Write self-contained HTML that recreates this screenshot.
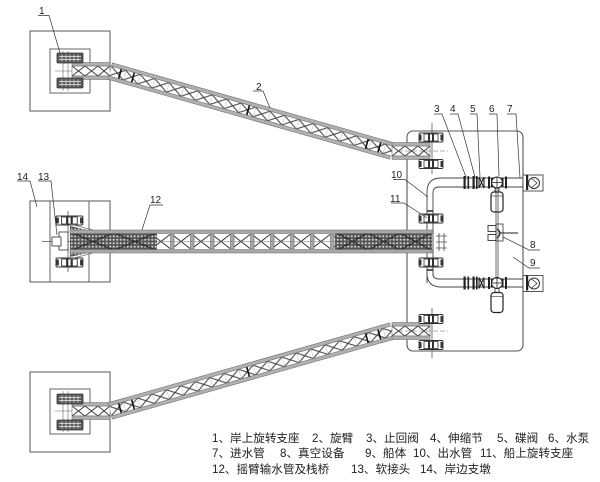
<!DOCTYPE html>
<html><head><meta charset="utf-8"><style>
html,body{margin:0;padding:0;background:#fff;}
svg{display:block;}
text{font-family:"Liberation Sans","Noto Sans CJK SC",sans-serif;fill:#222;}
</style></head><body>
<svg width="600" height="482" viewBox="0 0 600 482" xmlns="http://www.w3.org/2000/svg">
<defs>
  <pattern id="xb" patternUnits="userSpaceOnUse" x="0" y="-5" width="15" height="10">
    <line x1="0" y1="0" x2="15" y2="10" stroke="#444" stroke-width="1.1"/>
    <line x1="15" y1="0" x2="0" y2="10" stroke="#444" stroke-width="1.1"/>
    <line x1="0" y1="0" x2="0" y2="10" stroke="#888" stroke-width="0.6"/>
  </pattern>
  <pattern id="dn" patternUnits="userSpaceOnUse" width="3.5" height="3.5">
    <rect width="3.5" height="3.5" fill="#555"/>
    <circle cx="1.75" cy="1.75" r="1.05" fill="#d0d0d0"/>
  </pattern>
  <pattern id="ob" patternUnits="userSpaceOnUse" x="170" y="234" width="20" height="15">
    <line x1="2" y1="0.5" x2="20" y2="14.5" stroke="#333" stroke-width="1"/>
    <line x1="20" y1="0.5" x2="2" y2="14.5" stroke="#333" stroke-width="1"/>
    <rect x="0" y="0" width="4" height="15" fill="#aaa" stroke="#555" stroke-width="0.5"/>
  </pattern>
  <g id="truss">
    <rect x="0" y="-8.5" width="293" height="17" fill="#fff"/>
    <rect x="0" y="-5" width="293" height="10" fill="url(#xb)"/>
    <rect x="0" y="-8.5" width="293" height="3.5" fill="#b0b0b0" stroke="#666" stroke-width="0.5"/>
    <rect x="0" y="5" width="293" height="3.5" fill="#b0b0b0" stroke="#666" stroke-width="0.5"/>
    <line x1="10.4" y1="-5" x2="10.4" y2="5" stroke="#111" stroke-width="1.6"/>
    <line x1="23.9" y1="-5" x2="23.9" y2="5" stroke="#111" stroke-width="1.6"/>
    <line x1="143.5" y1="-5" x2="143.5" y2="5" stroke="#111" stroke-width="1.6"/>
    <line x1="267" y1="-5" x2="267" y2="5" stroke="#111" stroke-width="1.6"/>
    <line x1="280" y1="-5" x2="280" y2="5" stroke="#111" stroke-width="1.6"/>
  </g>
  <g id="strt">
    <rect x="0" y="-8.5" width="38" height="17" fill="#fff"/>
    <rect x="0" y="-5" width="38" height="10" fill="none" stroke="#555" stroke-width="0.5"/>
    <line x1="0" y1="-5" x2="13" y2="5" stroke="#444" stroke-width="1.1"/>
    <line x1="13" y1="-5" x2="0" y2="5" stroke="#444" stroke-width="1.1"/>
    <line x1="13" y1="-5" x2="26" y2="5" stroke="#444" stroke-width="1.1"/>
    <line x1="26" y1="-5" x2="13" y2="5" stroke="#444" stroke-width="1.1"/>
    <line x1="26" y1="-5" x2="38" y2="5" stroke="#444" stroke-width="1.1"/>
    <line x1="38" y1="-5" x2="26" y2="5" stroke="#444" stroke-width="1.1"/>
    <rect x="0" y="-8.5" width="38" height="3.5" fill="#b0b0b0" stroke="#666" stroke-width="0.5"/>
    <rect x="0" y="5" width="38" height="3.5" fill="#b0b0b0" stroke="#666" stroke-width="0.5"/>
  </g>
  <g id="blkA">
    <rect x="0" y="0" width="26" height="10" rx="1" fill="#5a5a5a" stroke="#333" stroke-width="0.8"/>
    <line x1="2" y1="3.5" x2="24" y2="3.5" stroke="#eee" stroke-width="0.7"/>
    <line x1="2" y1="6.5" x2="24" y2="6.5" stroke="#eee" stroke-width="0.7"/>
    <line x1="5" y1="1.5" x2="5" y2="8.5" stroke="#eee" stroke-width="0.7"/>
    <line x1="9" y1="1.5" x2="9" y2="8.5" stroke="#eee" stroke-width="0.7"/>
    <line x1="13" y1="1.5" x2="13" y2="8.5" stroke="#eee" stroke-width="0.7"/>
    <line x1="17" y1="1.5" x2="17" y2="8.5" stroke="#eee" stroke-width="0.7"/>
    <line x1="21" y1="1.5" x2="21" y2="8.5" stroke="#eee" stroke-width="0.7"/>
  </g>
  <g id="blkB">
    <rect x="0" y="0" width="24" height="9" rx="1" fill="#fff" stroke="#333" stroke-width="0.9"/>
    <rect x="0" y="1.5" width="2.5" height="6" fill="#333"/>
    <rect x="21.5" y="1.5" width="2.5" height="6" fill="#333"/>
    <rect x="5" y="1" width="14" height="7" fill="none" stroke="#333" stroke-width="0.8"/>
    <rect x="9" y="0" width="2" height="9" fill="#333"/>
    <rect x="13" y="0" width="2" height="9" fill="#333"/>
  </g>
  <g id="pparts">
    <rect x="463.5" y="176" width="2.2" height="13" fill="#222"/>
    <rect x="467.5" y="176" width="1.6" height="13" fill="#222"/>
    <rect x="472.5" y="176" width="2.2" height="13" fill="#222"/>
    <rect x="476" y="176" width="1.6" height="13" fill="#222"/>
    <path d="M479,177 L484,188 M484,177 L479,188 M479,177 L479,188 M484,177 L484,188" stroke="#222" stroke-width="1.1" fill="none"/>
    <rect x="488" y="176.5" width="2" height="12" fill="#222"/>
    <rect x="491" y="178" width="1.5" height="9" fill="#222"/>
    <circle cx="497" cy="182.5" r="5.5" fill="#fff" stroke="#222" stroke-width="1.1"/>
    <line x1="491.5" y1="182.5" x2="502.5" y2="182.5" stroke="#222" stroke-width="0.8"/>
    <line x1="497" y1="177" x2="497" y2="188" stroke="#222" stroke-width="0.8"/>
    <rect x="502" y="178" width="1.5" height="9" fill="#222"/>
    <rect x="505" y="176.5" width="2" height="12" fill="#222"/>
    <rect x="523" y="175" width="20" height="16" fill="#fff" stroke="#444" stroke-width="0.9"/>
    <circle cx="534" cy="183" r="5.5" fill="#fff" stroke="#333" stroke-width="1"/>
    <path d="M531,178 L537,183 L531,188" stroke="#333" stroke-width="0.8" fill="none"/>
    <rect x="526" y="175" width="2.2" height="15" fill="#222"/>
    <line x1="495" y1="188" x2="495" y2="192" stroke="#333" stroke-width="0.8"/>
    <line x1="499" y1="188" x2="499" y2="192" stroke="#333" stroke-width="0.8"/>
    <rect x="491" y="192" width="12" height="20" rx="3" fill="#fff" stroke="#222" stroke-width="1.2"/>
    <line x1="491" y1="196" x2="503" y2="196" stroke="#333" stroke-width="0.6"/>
  </g>
</defs>

<!-- Box 1 (top-left) -->
<rect x="30" y="31" width="80" height="80" fill="none" stroke="#555" stroke-width="1"/>
<rect x="50" y="49" width="40" height="44" fill="none" stroke="#555" stroke-width="0.9"/>
<line x1="63" y1="51" x2="63" y2="91" stroke="#666" stroke-width="0.6"/>
<line x1="68" y1="51" x2="68" y2="91" stroke="#666" stroke-width="0.6"/>
<line x1="55" y1="71" x2="90" y2="71" stroke="#666" stroke-width="0.6"/>
<use href="#strt" transform="translate(72,71)"/>
<use href="#blkA" x="57" y="53"/>
<use href="#blkA" x="57" y="78"/>

<!-- Box bottom-left -->
<rect x="30" y="372" width="80" height="80" fill="none" stroke="#555" stroke-width="1"/>
<rect x="50" y="389" width="40" height="45" fill="none" stroke="#555" stroke-width="0.9"/>
<line x1="63" y1="391" x2="63" y2="432" stroke="#666" stroke-width="0.6"/>
<line x1="68" y1="391" x2="68" y2="432" stroke="#666" stroke-width="0.6"/>
<line x1="55" y1="411" x2="90" y2="411" stroke="#666" stroke-width="0.6"/>
<use href="#strt" transform="translate(72,411)"/>
<use href="#blkA" x="57" y="394"/>
<use href="#blkA" x="57" y="420"/>

<!-- Vessel -->
<rect x="407" y="131" width="116" height="220" rx="6" fill="none" stroke="#555" stroke-width="1.1"/>

<!-- diagonal trusses -->
<use href="#truss" transform="translate(110,71) rotate(15.84)"/>
<use href="#truss" transform="translate(110,411) rotate(-15.84)"/>
<use href="#strt" transform="translate(392,151)"/>
<use href="#strt" transform="translate(392,331)"/>

<!-- vessel bearings for trusses -->
<line x1="432" y1="123" x2="432" y2="174" stroke="#555" stroke-width="0.8"/>
<line x1="398" y1="151" x2="448" y2="151" stroke="#666" stroke-width="0.6" stroke-dasharray="5,2"/>
<use href="#blkB" x="419" y="133"/>
<use href="#blkB" x="419" y="159.5"/>
<line x1="432" y1="308" x2="432" y2="358" stroke="#555" stroke-width="0.8"/>
<line x1="398" y1="331" x2="448" y2="331" stroke="#666" stroke-width="0.6" stroke-dasharray="5,2"/>
<use href="#blkB" x="419" y="314.5"/>
<use href="#blkB" x="419" y="340.5"/>

<!-- pipes -->
<path d="M427,283 L427,192 Q427,178 441,178 L523,178" fill="none" stroke="#444" stroke-width="0.9"/>
<path d="M433,276 L433,193 Q433,187 439,187 L523,187" fill="none" stroke="#444" stroke-width="0.9"/>
<path d="M427,270 L427,273 Q427,287 441,287 L523,287" fill="none" stroke="#444" stroke-width="0.9"/>
<path d="M433,268 L433,274 Q433,279 439,279 L523,279" fill="none" stroke="#444" stroke-width="0.9"/>
<line x1="427" y1="211" x2="433" y2="211" stroke="#222" stroke-width="1.5"/>
<line x1="427" y1="270" x2="433" y2="270" stroke="#222" stroke-width="1.5"/>
<use href="#pparts"/>
<use href="#pparts" transform="translate(0,100.5)"/>
<line x1="496" y1="188" x2="496" y2="279" stroke="#333" stroke-width="0.7"/>
<line x1="498" y1="188" x2="498" y2="279" stroke="#333" stroke-width="0.7"/>

<!-- vacuum device -->
<rect x="488" y="225.5" width="8" height="6" fill="#fff" stroke="#333" stroke-width="0.9"/>
<rect x="488" y="234.5" width="8" height="6" fill="#fff" stroke="#333" stroke-width="0.9"/>
<rect x="496" y="224" width="7" height="17" fill="none" stroke="#333" stroke-width="0.8"/>
<path d="M497,229 Q503,233 497,238" fill="none" stroke="#222" stroke-width="1.2"/>
<line x1="499" y1="233" x2="518" y2="233" stroke="#222" stroke-width="0.9"/>

<!-- bearings 11 -->
<use href="#blkB" x="419" y="214"/>
<use href="#blkB" x="419" y="258"/>

<!-- Shore support 14 -->
<rect x="30" y="201" width="80" height="81" fill="none" stroke="#555" stroke-width="1"/>
<line x1="50" y1="201" x2="50" y2="282" stroke="#555" stroke-width="0.9"/>
<line x1="89" y1="201" x2="89" y2="282" stroke="#555" stroke-width="0.9"/>
<line x1="68" y1="211" x2="68" y2="272" stroke="#555" stroke-width="0.8"/>
<line x1="42" y1="241.5" x2="75" y2="241.5" stroke="#555" stroke-width="0.7"/>
<rect x="59" y="232" width="9" height="18" fill="#fff" stroke="#444" stroke-width="0.9"/>
<rect x="52" y="237" width="9" height="9" fill="#fff" stroke="#444" stroke-width="0.9"/>
<g transform="translate(56,216) scale(1.12,1)"><use href="#blkB"/></g>
<g transform="translate(56,258) scale(1.12,1)"><use href="#blkB"/></g>

<!-- middle bridge -->
<rect x="157" y="234" width="178" height="15" fill="#fff"/>
<rect x="157" y="234" width="178" height="15" fill="url(#ob)"/>
<line x1="157" y1="241.5" x2="335" y2="241.5" stroke="#777" stroke-width="0.6"/>
<polygon points="70,226 92,231 92,252 70,257" fill="url(#dn)"/>
<line x1="70" y1="224" x2="93" y2="230" stroke="#777" stroke-width="0.8"/>
<line x1="70" y1="259" x2="93" y2="253" stroke="#777" stroke-width="0.8"/>
<rect x="90" y="230" width="67" height="23" fill="url(#dn)"/>
<rect x="335" y="230" width="97" height="23" fill="url(#dn)"/>
<path d="M72,233 L114,250 M72,250 L114,233 M114,233 L156,250 M114,250 L156,233" stroke="#222" stroke-width="1.6" fill="none" opacity="0.7"/>
<path d="M337,233 L368,250 M337,250 L368,233 M368,233 L400,250 M368,250 L400,233 M400,233 L431,250 M400,250 L431,233" stroke="#222" stroke-width="1.6" fill="none" opacity="0.7"/>
<rect x="70" y="230" width="362" height="3.5" fill="#a8a8a8" stroke="#666" stroke-width="0.5"/>
<rect x="70" y="249.5" width="362" height="3.5" fill="#a8a8a8" stroke="#666" stroke-width="0.5"/>
<!-- small H element -->
<line x1="439" y1="233" x2="439" y2="251" stroke="#444" stroke-width="0.8"/>
<line x1="444" y1="233" x2="444" y2="251" stroke="#444" stroke-width="0.8"/>
<line x1="436" y1="236" x2="447" y2="236" stroke="#444" stroke-width="0.7"/>
<line x1="436" y1="242" x2="447" y2="242" stroke="#444" stroke-width="0.7"/>
<line x1="436" y1="248" x2="447" y2="248" stroke="#444" stroke-width="0.7"/>

<!-- labels & leaders -->
<g stroke="#333" stroke-width="0.7" fill="none">
  <path d="M38,15.5 L49,15.5 L60,53"/>
  <path d="M253,91 L263,91 L270,108"/>
  <path d="M434,114 L442,114 L466,177"/>
  <path d="M450,114 L458,114 L475,177"/>
  <path d="M470,114 L477,114 L480,177"/>
  <path d="M489,114 L497,114 L499,176"/>
  <path d="M507,114 L516,114 L520,178"/>
  <path d="M393,179.5 L405,179.5 L428,197"/>
  <path d="M391,203 L404,203 L427,218"/>
  <path d="M540,250 L529,250 L503,237"/>
  <path d="M540,268 L529,268 L513,257"/>
  <path d="M17,181 L30,181 L37,207"/>
  <path d="M38,181 L51,181 L57,235"/>
  <path d="M163,205 L150,205 L142,230"/>
</g>
<g font-size="10">
  <text x="39" y="14">1</text>
  <text x="256" y="90">2</text>
  <text x="434" y="112">3</text>
  <text x="450" y="112">4</text>
  <text x="470" y="112">5</text>
  <text x="489" y="112">6</text>
  <text x="507" y="112">7</text>
  <text x="391" y="178">10</text>
  <text x="390" y="202">11</text>
  <text x="530" y="248">8</text>
  <text x="530" y="266">9</text>
  <text x="17" y="180">14</text>
  <text x="38" y="180">13</text>
  <text x="150" y="203">12</text>
</g>

<!-- legend -->
<g font-size="11.6">
  <text x="212" y="442">1、岸上旋转支座</text>
  <text x="312" y="442">2、旋臂</text>
  <text x="366" y="442">3、止回阀</text>
  <text x="430" y="442">4、伸缩节</text>
  <text x="497" y="442">5、碟阀</text>
  <text x="548" y="442">6、水泵</text>
  <text x="212" y="457">7、进水管</text>
  <text x="280" y="457">8、真空设备</text>
  <text x="365" y="457">9、船体</text>
  <text x="413" y="457">10、出水管</text>
  <text x="480" y="457">11、船上旋转支座</text>
  <text x="212" y="473">12、摇臂输水管及栈桥</text>
  <text x="351" y="473">13、软接头</text>
  <text x="420" y="473">14、岸边支墩</text>
</g>
</svg>
</body></html>
